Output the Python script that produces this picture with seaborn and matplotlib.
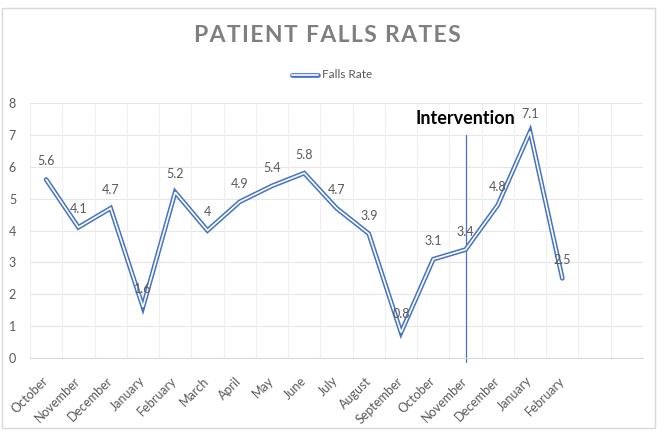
import numpy as np
import pandas as pd
import seaborn as sns
import matplotlib.pyplot as plt
from matplotlib.lines import Line2D
from matplotlib.patches import Rectangle

months = ["October", "November", "December", "January", "February", "March",
          "April", "May", "June", "July", "August", "September", "October",
          "November", "December", "January", "February"]
rates = [5.6, 4.1, 4.7, 1.6, 5.2, 4, 4.9, 5.4, 5.8, 4.7, 3.9, 0.8, 3.1,
         3.4, 4.8, 7.1, 2.5]
label_text = ["5.6", "4.1", "4.7", "1.6", "5.2", "4", "4.9", "5.4", "5.8",
              "4.7", "3.9", "0.8", "3.1", "3.4", "4.8", "7.1", "2.5"]
intervention_idx = 13
n_slots = 19  # two empty categories after the last month

sns.set_theme(style="white")
plt.rcParams["font.family"] = ["Lato", "DejaVu Sans"]

blue = "#4472C4"
grey = "#595959"
outer_lw, inner_lw = 3.4, 1.2

df = pd.DataFrame({"pos": np.arange(len(rates)), "rate": rates})

fig = plt.figure(figsize=(6.64, 4.36), dpi=100)
ax = fig.add_axes([30 / 664, 1 - 358 / 436, 613 / 664, 255 / 436])

# double line look: blue line with a thin white core
sns.lineplot(data=df, x="pos", y="rate", ax=ax, color=blue, lw=outer_lw,
             solid_joinstyle="miter", zorder=3)
sns.lineplot(data=df, x="pos", y="rate", ax=ax, color="white", lw=inner_lw,
             solid_joinstyle="miter", zorder=4)

for x, y, t in zip(df["pos"], df["rate"], label_text):
    ax.annotate(t, (x, y), xytext=(0, 13), textcoords="offset points",
                ha="center", va="center", fontsize=9, color=grey, zorder=5)

# intervention marker
ax.plot([intervention_idx, intervention_idx], [-0.12, 7], color=blue, lw=0.9,
        zorder=2, clip_on=False)
ax.text(intervention_idx, 7.52, "Intervention", ha="center", va="center",
        fontsize=13, fontweight="bold", color="black")

ax.set_xlim(-0.5, n_slots - 0.5)
ax.set_ylim(0, 8)
ax.set_yticks(range(0, 9))
ax.set_xticks(range(len(months)))
ax.set_xticklabels(months, rotation=45, ha="right", va="center",
                   rotation_mode="anchor", fontsize=9, color=grey)
ax.tick_params(axis="x", length=0, pad=15)
ax.tick_params(axis="y", length=0, pad=10, labelsize=9, labelcolor=grey)
ax.set_xlabel("")
ax.set_ylabel("")

# grid: horizontal at integers, vertical at category boundaries
for yv in range(1, 9):
    ax.axhline(yv, color="#e6e6e6", lw=0.8, zorder=0)
for xv in np.arange(-0.5, n_slots, 1):
    ax.axvline(xv, color="#eeeeee", lw=0.8, zorder=0)

for s in ["top", "right", "left"]:
    ax.spines[s].set_visible(False)
ax.spines["bottom"].set_color("#d9d9d9")
ax.spines["bottom"].set_linewidth(0.8)

# title with letter spacing
title = "\u200a".join("PATIENT FALLS RATES")
fig.text(327 / 664, 1 - 36 / 436, title, ha="center", va="center",
         fontsize=16.5, fontweight="bold", color="#7f7f7f")

# legend
lx0, lx1, ly = 292 / 664, 318 / 664, 1 - 75 / 436
fig.add_artist(Line2D([lx0, lx1], [ly, ly], color=blue, lw=outer_lw))
fig.add_artist(Line2D([lx0, lx1], [ly, ly], color="white", lw=inner_lw))
fig.text(322 / 664, ly, "Falls Rate", ha="left", va="center", fontsize=8.5, color=grey)

# chart border
fig.add_artist(Rectangle((2 / 664, 1 - 428 / 436), 653 / 664, 420 / 436,
                         transform=fig.transFigure, fill=False,
                         edgecolor="#d9d9d9", lw=1))

fig.savefig("out.png", dpi=100)
